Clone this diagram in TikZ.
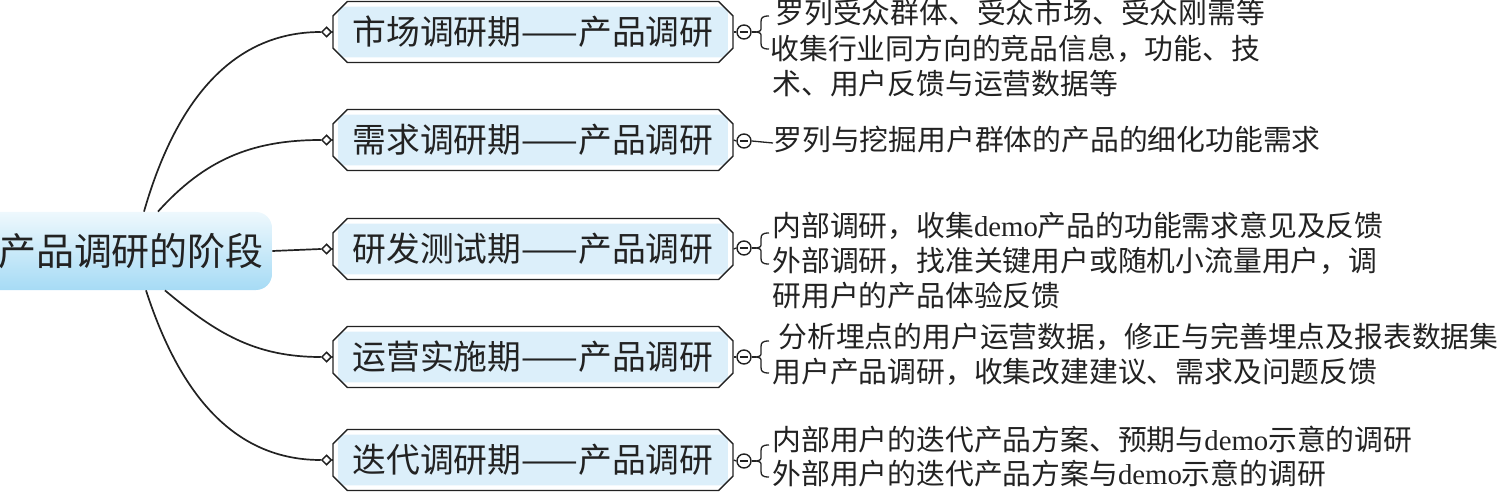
\documentclass[tikz,border=0pt]{standalone}
\usepackage{fontspec}
\setmainfont{Noto Sans CJK SC}
\newfontfamily\latinserif{Liberation Serif}
\usetikzlibrary{shapes.misc,shapes.geometric}
\definecolor{boxblue}{HTML}{DCEFFA}
\definecolor{roottop}{HTML}{EEF8FD}
\definecolor{rootbot}{HTML}{A6DBF5}
\definecolor{ink}{HTML}{222222}
\newcommand{\dmo}{{\latinserif demo}}
\tikzset{
  branch/.style={chamfered rectangle, chamfered rectangle xsep=3.6pt,
    chamfered rectangle ysep=3.6pt, draw=ink, line width=0.65pt,
    minimum width=200pt, minimum height=30.5pt, inner sep=0pt, text=ink,
    font=\fontsize{16.9}{18}\selectfont,
    path picture={\fill[boxblue, rounded corners=3pt]
      ([shift={(2.6pt,2.6pt)}]path picture bounding box.south west) rectangle
      ([shift={(-2.6pt,-2.6pt)}]path picture bounding box.north east);}},
  rootbox/.style={rounded corners=8pt, top color=roottop, bottom color=rootbot,
    minimum width=144pt, minimum height=39pt, inner sep=0pt, text=ink,
    font=\fontsize{19}{20}\selectfont},
  dia/.style={diamond, draw=ink, fill=white, line width=0.75pt, inner sep=0pt,
    minimum size=5pt},
  cmin/.style={circle, draw=ink, fill=white, line width=0.7pt, inner sep=0pt,
    minimum size=7pt, path picture={\draw[ink, line width=0.7pt]
      ([xshift=1.4pt]path picture bounding box.west) --
      ([xshift=-1.4pt]path picture bounding box.east);}},
  item/.style={anchor=west, inner sep=0pt, text=ink,
    font=\fontsize{14.4}{16}\selectfont, text height=0.84em, text depth=0.12em},
  conn/.style={draw=ink, line width=0.85pt},
  brace/.style={draw=ink, line width=0.65pt},
}
\begin{document}
\begin{tikzpicture}[x=0.5pt, y=-0.5pt]
\useasboundingbox (0,0) rectangle (1501,492);
% root
\node[rootbox] (root) at (128,251) {\hspace*{3pt}产品调研的阶段};
% branches
\node[branch] (b1) at (533,32) {市场调研期——产品调研};
\node[branch] (b2) at (533,140) {需求调研期——产品调研};
\node[branch] (b3) at (533,249) {研发测试期——产品调研};
\node[branch] (b4) at (533,357) {运营实施期——产品调研};
\node[branch] (b5) at (533,460) {迭代调研期——产品调研};
% diamonds
\node[dia] (d1) at (326.5,32) {};
\node[dia] (d2) at (326.5,140) {};
\node[dia] (d3) at (326.5,249) {};
\node[dia] (d4) at (326.5,357) {};
\node[dia] (d5) at (326.5,460) {};
% connectors
\draw[conn] ([xshift=8pt]root.north) to[out=74,in=180] (d1.west);
\draw[conn] ([xshift=15pt]root.north) to[out=48,in=180] (d2.west);
\draw[conn] (root.east) -- (d3.west);
\draw[conn] ([xshift=18.5pt]root.south) to[out=-40,in=180] (d4.west);
\draw[conn] ([xshift=9pt]root.south) to[out=-72,in=180] (d5.west);
\foreach \i in {1,...,5} {\draw[conn] (d\i.east) -- (b\i.west);}
% collapse circles
\node[cmin] (c1) at (744,32) {};
\node[cmin] (c2) at (744,141) {};
\node[cmin] (c3) at (744,248) {};
\node[cmin] (c4) at (744,357) {};
\node[cmin] (c5) at (744,461) {};
\foreach \i in {1,...,5} {\draw[brace] (b\i.east) -- (c\i.west);}
% braces
\foreach \c/\yt/\ym/\yb in {c1/16/32/49, c3/233/248/264, c4/341/357/373, c5/445/461/477} {
  \draw[brace] (\c.east) -- (756,\ym);
  \draw[brace] (769,\yt) .. controls (762,\yt) and (761,\yt+2) .. (761,\yt+6)
    -- (761,\ym-5) .. controls (761,\ym-1) .. (756,\ym)
    .. controls (761,\ym+1) .. (761,\ym+5) -- (761,\yb-6)
    .. controls (761,\yb-2) and (762,\yb) .. (769,\yb);
}
% items group 1
\node[item] (t11) at (775,16) {罗列受众群体、受众市场、受众刚需等};
\node[item] (t12) at (770,52) {收集行业同方向的竞品信息，功能、技};
\node[item] (t13) at (772,87) {术、用户反馈与运营数据等};
% group 2
\node[item] (t21) at (773,143) {罗列与挖掘用户群体的产品的细化功能需求};
\draw[brace] (c2.east) -- (t21.west);
% group 3
\node[item] (t31) at (772,229) {内部调研，收集\dmo 产品的功能需求意见及反馈};
\node[item] (t32) at (772,264) {外部调研，找准关键用户或随机小流量用户，调};
\node[item] (t33) at (772,299) {研用户的产品体验反馈};
% group 4
\node[item] (t41) at (778,340) {分析埋点的用户运营数据，修正与完善埋点及报表数据集};
\node[item] (t42) at (772,375) {用户产品调研，收集改建建议、需求及问题反馈};
% group 5
\node[item] (t51) at (772,443) {内部用户的迭代产品方案、预期与\dmo 示意的调研};
\node[item] (t52) at (772,477) {外部用户的迭代产品方案与\dmo 示意的调研};
\end{tikzpicture}
\end{document}
